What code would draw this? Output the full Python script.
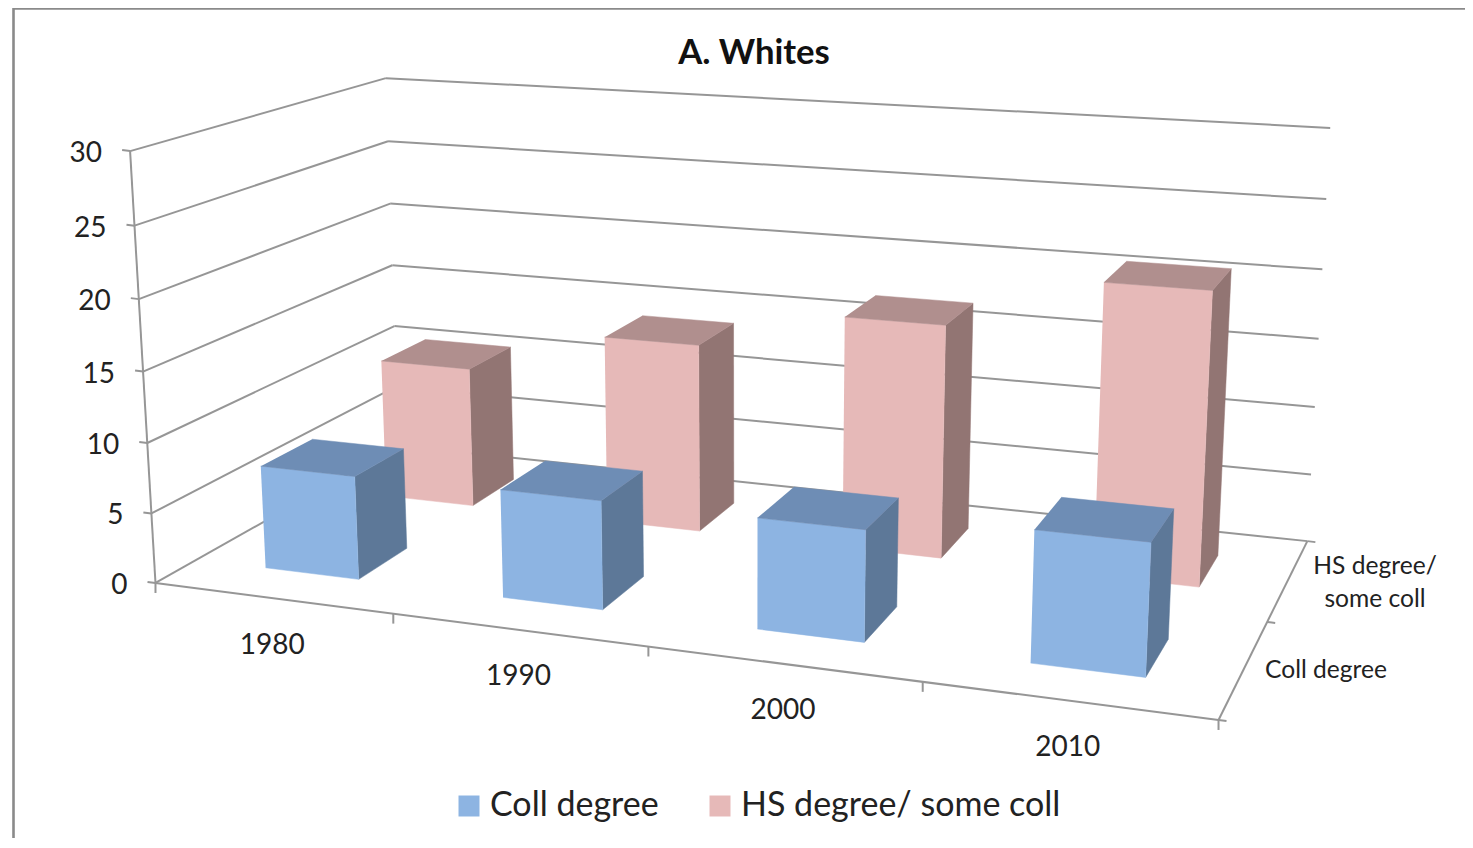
import numpy as np, pandas as pd, altair as alt

years = ["1980", "1990", "2000", "2010"]
series = ["Coll degree", "HS degree/ some coll"]
coll_values = [7.4, 7.6, 7.6, 8.8]
hs_values = [10.6, 13.95, 16.9, 20.75]
value_ticks = [0, 5, 10, 15, 20, 25, 30]
VMAX = 30
BAR_U = 0.1
BAR_V = 0.2
FONT = "Lato"
FRONT = {"Coll degree": "#8DB4E2", "HS degree/ some coll": "#E6B9B8"}
TOP = {"Coll degree": "#6E8DB5", "HS degree/ some coll": "#B08F8E"}
SIDE = {"Coll degree": "#5D7898", "HS degree/ some coll": "#927573"}
GRID = "#969696"

# camera: maps (category, depth, value) fractions to the page
anchors = [((0,0,0),(157,584)),((1,0,0),(1218,720)),((1,1,0),(1308,541)),((0,1,0),(397,445)),
           ((0,0,1),(129,150)),((0,1,1),(387,79)),((1,1,1),(1330,128))]
A, b = [], []
for (u,v,w),(x,y) in anchors:
    A.append([u,v,w,1,0,0,0,0,-x*u,-x*v,-x*w]); b.append(x)
    A.append([0,0,0,0,u,v,w,1,-y*u,-y*v,-y*w]); b.append(y)
p = np.linalg.lstsq(np.array(A,float), np.array(b,float), rcond=None)[0]
P = np.append(p,1).reshape(3,4)
def proj(u,v,val):
    q = P @ np.array([u,v,val/VMAX,1.0])
    return float(q[0]/q[2]), float(q[1]/q[2])

lines = []
def seg(name, pts):
    for k,(x,y) in enumerate(pts):
        lines.append({"id":name,"k":k,"x":x,"y":y})
for t in value_ticks:
    seg(f"l{t}",[proj(0,0,t),proj(0,1,t)])
    seg(f"b{t}",[proj(0,1,t),proj(1,1,t)])
    x,y = proj(0,0,t); seg(f"lt{t}",[(x-8,y-1),(x,y)])
seg("lv",[proj(0,0,0),proj(0,0,VMAX)])
seg("ff",[proj(0,0,0),proj(1,0,0)])
seg("fr",[proj(1,0,0),proj(1,1,0)])
for i in range(5):
    x,y = proj(i/4,0,0); seg(f"ct{i}",[(x,y),(x,y+10)])
for j in range(3):
    x,y = proj(1,j/2,0); seg(f"st{j}",[(x,y),(x+8,y+1)])
lines_df = pd.DataFrame(lines)

faces = []
points = []
def face(name, col, pts):
    for k,(x,y) in enumerate(pts):
        faces.append({"id":name,"k":k,"x":x,"y":y,"c":col})
for s,vals,vc in [(series[1],hs_values,0.75),(series[0],coll_values,0.25)]:
    for i,val in enumerate(vals):
        uc=(i+0.5)/4; u0,u1=uc-BAR_U/2,uc+BAR_U/2; v0,v1=vc-BAR_V/2,vc+BAR_V/2
        face(f"{s}{i}a",SIDE[s],[proj(u1,v0,0),proj(u1,v1,0),proj(u1,v1,val),proj(u1,v0,val)])
        face(f"{s}{i}b",FRONT[s],[proj(u0,v0,0),proj(u1,v0,0),proj(u1,v0,val),proj(u0,v0,val)])
        face(f"{s}{i}c",TOP[s],[proj(u0,v0,val),proj(u1,v0,val),proj(u1,v1,val),proj(u0,v1,val)])
        x,y=proj(uc,vc,val/2); points.append({"x":x,"y":y,"s":s})
faces_df = pd.DataFrame(faces); points_df = pd.DataFrame(points)

labels = [{"x":754,"y":54,"t":"A. Whites","kind":"title"}]
for t in value_ticks:
    x,y = proj(0,0,t); labels.append({"x":x-28,"y":y+3,"t":str(t),"kind":"val"})
for i,yr in enumerate(years):
    x,y = proj((i+0.5)/4,0,0); labels.append({"x":x,"y":y+47.5,"t":yr,"kind":"cat"})
labels_df = pd.DataFrame(labels)
side_df = pd.DataFrame([{"x":1326,"y":671,"t":"Coll degree"},{"x":1375,"y":567,"t":"HS degree/"},{"x":1375,"y":600,"t":"some coll"}])
frame_df = pd.DataFrame([{"x":13.5,"y":838},{"x":13.5,"y":8.5},{"x":1465,"y":8.5}]).assign(k=range(3))

X = alt.X("x:Q",scale=alt.Scale(domain=[8,1465],nice=False,zero=False),axis=None)
Y = alt.Y("y:Q",scale=alt.Scale(domain=[838,8],nice=False,zero=False),axis=None)

frame = alt.Chart(frame_df).mark_line(color="#8A8A8A",strokeWidth=2.6,clip=False).encode(x=X,y=Y,order="k:Q")
grid = alt.Chart(lines_df).mark_line(color=GRID,strokeWidth=2).encode(x=X,y=Y,detail="id:N",order="k:Q")
legend_pts = alt.Chart(points_df).mark_square(size=30,opacity=1).encode(x=X,y=Y,
    color=alt.Color("s:N",scale=alt.Scale(domain=series,range=[FRONT[s] for s in series]),
        legend=alt.Legend(title=None,orient="none",legendX=444,legendY=781,direction="horizontal",
            labelFont=FONT,labelFontSize=34,labelColor="#222222",symbolType="square",symbolSize=441,
            symbolOpacity=1,columnPadding=44,labelOffset=4,labelLimit=500,symbolStrokeWidth=0)))
bars = alt.Chart(faces_df).mark_line(strokeWidth=0.5).encode(x=X,y=Y,detail="id:N",order="k:Q",
    fill=alt.Fill("c:N",scale=None),stroke=alt.Stroke("c:N",scale=None))
txt_all = alt.Chart(labels_df[labels_df.kind=="cat"]).mark_text(font=FONT,fontSize=28,color="#222222").encode(x=X,y=Y,text="t:N")
txt_val = alt.Chart(labels_df[labels_df.kind=="val"]).mark_text(font=FONT,fontSize=28,color="#222222",align="right").encode(x=X,y=Y,text="t:N")
txt_title = alt.Chart(labels_df[labels_df.kind=="title"]).mark_text(font=FONT,fontSize=34.7,fontWeight="bold",color="#111111").encode(x=X,y=Y,text="t:N")
txt_side = alt.Chart(side_df).mark_text(font=FONT,fontSize=24.6,color="#222222").encode(x=X,y=Y,text="t:N")

chart = alt.layer(frame,grid,legend_pts,bars,txt_all,txt_val,txt_title,txt_side).properties(
    width=1457,height=830,padding=0,background="white",
    autosize=alt.AutoSizeParams(type="none")).configure_view(stroke=None)
chart.save("out.html",embed_options={"renderer":"svg","actions":False})
